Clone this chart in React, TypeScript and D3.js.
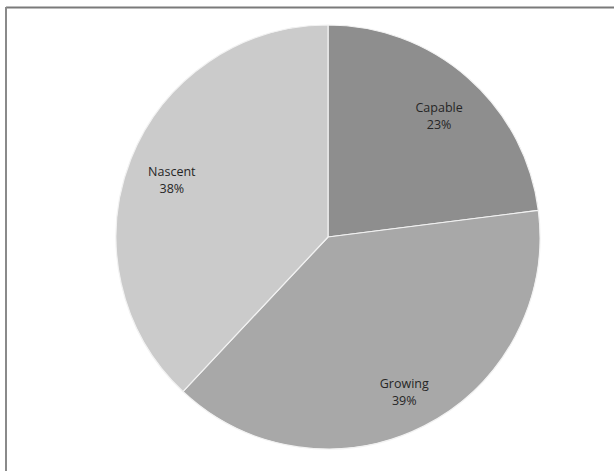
import React from "react";
import * as d3 from "d3";

const categories = ["Capable", "Growing", "Nascent"];
const values = [23, 39, 38];
const colors = ["#8e8e8e", "#a8a8a8", "#cbcbcb"];

const W = 614;
const H = 471;
const cx = 328;
const cy = 237;
const R = 212;
const labelR = 168;

export default function App() {
  const pie = d3
    .pie<number>()
    .sort(null)
    .value((d) => d)(values);
  const arc = d3.arc<d3.PieArcDatum<number>>().innerRadius(0).outerRadius(R);
  const labelArc = d3
    .arc<d3.PieArcDatum<number>>()
    .innerRadius(labelR)
    .outerRadius(labelR);

  return (
    <svg
      width={W}
      height={H}
      style={{ position: "absolute", left: 0, top: 0, background: "#fff" }}
      fontFamily="'Open Sans', sans-serif"
    >
      {/* frame */}
      <line x1={6} y1={7.5} x2={W} y2={7.5} stroke="#7a7a7a" strokeWidth={2} />
      <line x1={6} y1={7} x2={6} y2={H} stroke="#8a8a8a" strokeWidth={2} />
      <g transform={`translate(${cx},${cy})`}>
        {pie.map((p, i) => (
          <path
            key={categories[i]}
            d={arc(p) || ""}
            fill={colors[i]}
            stroke="#f2f2f2"
            strokeWidth={1.2}
            strokeLinejoin="round"
          />
        ))}
        {pie.map((p, i) => {
          const [x, y] = labelArc.centroid(p);
          return (
            <text
              key={categories[i] + "-label"}
              x={x}
              y={y}
              textAnchor="middle"
              fontSize={12.5}
              fill="#262626"
            >
              <tspan x={x} dy={1}>
                {categories[i]}
              </tspan>
              <tspan x={x} dy={17}>
                {values[i]}%
              </tspan>
            </text>
          );
        })}
      </g>
    </svg>
  );
}
